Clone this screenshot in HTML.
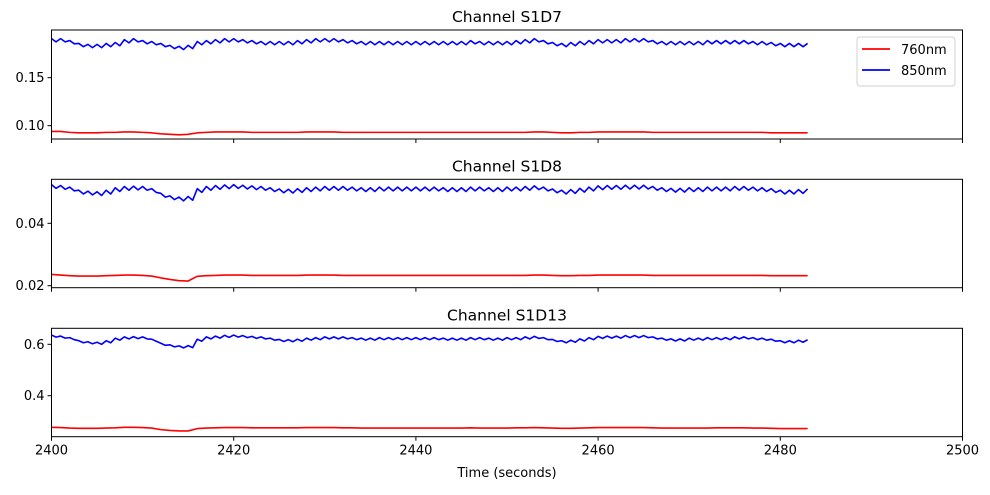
<!DOCTYPE html>
<html><head><meta charset="utf-8"><style>
body{margin:0;background:#fff;}
svg text{font-family:"DejaVu Sans","Liberation Sans",sans-serif;fill:#000;}
</style></head><body>
<svg id="c" width="990" height="490" xmlns="http://www.w3.org/2000/svg"></svg>
<script>
const xTicks=[2400,2420,2440,2460,2480,2500];
const titles=["Channel S1D7","Channel S1D8","Channel S1D13"];
const yTicks1=[0.10,0.15], yTicks2=[0.02,0.04], yTicks3=[0.4,0.6];
const yTickLabels1=["0.10","0.15"], yTickLabels2=["0.02","0.04"], yTickLabels3=["0.4","0.6"];
const startTime=2400;
const blue1=[.189,.189,.187,.184,.183,.183,.184,.185,.188,.189,.187,.186,.184,.182,.181,.182,.186,.187,.188,.189,.189,.188,.187,.186,.186,.186,.186,.187,.188,.189,.189,.189,.188,.187,.186,.186,.186,.186,.186,.186,.186,.186,.186,.186,.186,.186,.187,.186,.186,.186,.186,.187,.188,.189,.187,.185,.184,.185,.186,.187,.188,.188,.188,.189,.189,.189,.187,.186,.186,.186,.186,.186,.187,.187,.187,.187,.187,.186,.186,.185,.184,.184,.184,.184];
const red1=[.094,.094,.093,.0925,.0925,.0925,.093,.093,.0935,.0935,.093,.0925,.0915,.091,.0905,.091,.0925,.093,.0935,.0935,.0935,.0935,.093,.093,.093,.093,.093,.093,.0935,.0935,.0935,.0935,.093,.093,.093,.093,.093,.093,.093,.093,.093,.093,.093,.093,.093,.093,.093,.093,.093,.093,.093,.093,.093,.0935,.0935,.093,.0925,.0925,.093,.093,.0935,.0935,.0935,.0935,.0935,.0935,.093,.093,.093,.093,.093,.093,.093,.093,.093,.093,.093,.093,.093,.0925,.0925,.0925,.0925,.0925];
const blue2=[.0518,.0515,.0510,.0500,.0497,.0495,.0500,.0508,.0512,.0513,.0512,.0505,.0490,.0482,.0478,.0480,.0505,.0512,.0515,.0517,.0518,.0516,.0514,.0512,.0508,.0504,.0503,.0505,.0508,.0510,.0512,.0512,.0512,.0510,.0508,.0508,.0510,.0510,.0510,.0510,.0510,.0510,.0510,.0508,.0508,.0508,.0510,.0510,.0508,.0508,.0510,.0510,.0512,.0514,.0510,.0504,.0500,.0502,.0506,.0510,.0514,.0515,.0515,.0516,.0516,.0516,.0512,.0508,.0506,.0506,.0508,.0508,.0510,.0510,.0510,.0512,.0512,.0510,.0508,.0505,.0500,.0500,.0502,.0504];
const red2=[.0236,.0234,.0232,.0231,.0231,.0231,.0232,.0233,.0234,.0234,.0233,.0231,.0225,.0220,.0216,.0215,.0230,.0232,.0233,.0234,.0234,.0234,.0233,.0233,.0233,.0233,.0233,.0233,.0234,.0234,.0234,.0234,.0233,.0233,.0233,.0233,.0233,.0233,.0233,.0233,.0233,.0233,.0233,.0233,.0233,.0233,.0233,.0233,.0233,.0233,.0233,.0233,.0233,.0234,.0234,.0233,.0232,.0232,.0233,.0233,.0234,.0234,.0234,.0234,.0234,.0234,.0233,.0233,.0233,.0233,.0233,.0233,.0233,.0233,.0233,.0233,.0233,.0233,.0233,.0232,.0232,.0232,.0232,.0232];
const blue3=[.632,.628,.622,.610,.606,.604,.610,.620,.625,.626,.625,.616,.600,.594,.590,.591,.616,.625,.628,.631,.632,.630,.627,.625,.620,.615,.614,.616,.620,.622,.625,.625,.625,.622,.620,.620,.622,.622,.622,.622,.622,.622,.622,.620,.620,.620,.622,.622,.620,.620,.622,.622,.625,.627,.622,.615,.610,.612,.617,.622,.627,.628,.628,.630,.630,.630,.625,.620,.617,.617,.620,.620,.622,.622,.622,.625,.625,.622,.620,.616,.610,.610,.612,.614];
const red3=[.277,.276,.274,.273,.273,.273,.274,.275,.277,.277,.276,.274,.268,.265,.263,.263,.272,.274,.275,.276,.276,.276,.275,.275,.275,.275,.275,.275,.276,.276,.276,.276,.275,.275,.274,.274,.274,.274,.274,.274,.274,.274,.274,.274,.274,.274,.275,.274,.274,.274,.274,.275,.275,.276,.275,.274,.273,.273,.274,.275,.276,.276,.276,.276,.276,.276,.275,.274,.274,.274,.274,.274,.274,.275,.275,.275,.275,.274,.274,.273,.272,.272,.272,.272];

const NS="http://www.w3.org/2000/svg";
const svg=document.getElementById('c');
const X0=51.5,X1=962.5,xMin=2400,xMax=2500;
const xs=v=>X0+(v-xMin)/(xMax-xMin)*(X1-X0);
function mk(tag,attrs,parent){const e=document.createElementNS(NS,tag);for(const k in attrs)e.setAttribute(k,attrs[k]);(parent||svg).appendChild(e);return e;}
const panels=[
 {top:30,bot:139,yMin:0.0861,yMax:0.1997,ticks:yTicks1,labels:yTickLabels1,blue:blue1,red:red1,wig:0.0017,title:titles[0]},
 {top:179.3,bot:287.7,yMin:0.01936,yMax:0.0541,ticks:yTicks2,labels:yTickLabels2,blue:blue2,red:red2,wig:0.0006,title:titles[1]},
 {top:328.3,bot:436.7,yMin:0.2405,yMax:0.6623,ticks:yTicks3,labels:yTickLabels3,blue:blue3,red:red3,wig:0.004,title:titles[2]}
];
panels.forEach((p,i)=>{
 const ys=v=>p.bot-(v-p.yMin)/(p.yMax-p.yMin)*(p.bot-p.top);
 const g=mk('g',{});
 
 
 const t=mk('text',{x:(X0+X1)/2,y:p.top-8,'text-anchor':'middle','font-size':'15.5'},g);
 t.textContent=p.title;
 
 
 let d='';p.red.forEach((v,k)=>{d+=(k?'L':'M')+xs(startTime+k).toFixed(2)+','+ys(v).toFixed(2);});
 const rl=mk('path',{d:d,fill:'none',stroke:'#ff0000','stroke-width':'1.6','stroke-linejoin':'round'},g);
 
 
 d='';p.blue.forEach((v,k)=>{
   d+=(k?'L':'M')+xs(startTime+k).toFixed(2)+','+ys(v+p.wig).toFixed(2);
   if(k<p.blue.length-1) d+='L'+xs(startTime+k+0.5).toFixed(2)+','+ys(v-p.wig).toFixed(2);
 });
 const bl=mk('path',{d:d,fill:'none',stroke:'#0000ff','stroke-width':'1.6','stroke-linejoin':'round'},g);
 
 
 const fr=mk('rect',{x:X0,y:p.top,width:X1-X0,height:p.bot-p.top,fill:'none',stroke:'#000','stroke-width':'1'},g);
 
 
 p.ticks.forEach((v,k)=>{
   const y=ys(v);
   mk('line',{x1:X0-4,x2:X0,y1:y,y2:y,stroke:'#000','stroke-width':'1'},g);
   const tl=mk('text',{x:X0-7,y:y+4.5,'text-anchor':'end','font-size':'13'},g);
   tl.textContent=p.labels[k];
   
   
 });
 xTicks.forEach(v=>{
   const x=xs(v);
   mk('line',{x1:x,x2:x,y1:p.bot,y2:p.bot+4,stroke:'#000','stroke-width':'1'},g);
   if(i===2){
     const xl=mk('text',{x:x,y:p.bot+18,'text-anchor':'middle','font-size':'13'},g);
     xl.textContent=String(v);
     
     
   }
 });
});
const xt=mk('text',{x:(X0+X1)/2,y:477,'text-anchor':'middle','font-size':'13'});
xt.textContent='Time (seconds)';


const lg=mk('g',{});


mk('rect',{x:857,y:37,width:98,height:49,rx:3,fill:'#fff',stroke:'#d0d0d0','stroke-width':'1'},lg);
const legendNames=['760nm','850nm'], legendColors=['#ff0000','#0000ff'];
legendNames.forEach((n,k)=>{
 const y=49+k*21;
 const e=mk('g',{},lg);
 
 
 mk('line',{x1:862,x2:890,y1:y,y2:y,stroke:legendColors[k],'stroke-width':'1.8'},e);
 const tx=mk('text',{x:901,y:y+5,'font-size':'13'},e);
 tx.textContent=n;
});
</script>
</body></html>
